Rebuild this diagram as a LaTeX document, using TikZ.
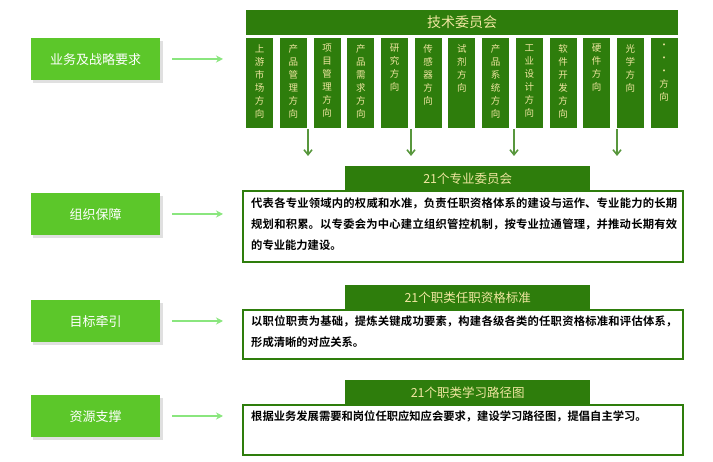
\documentclass[tikz,border=0pt]{standalone}
\usepackage{fontspec}
\setmainfont{Noto Sans CJK SC}
\newfontfamily\cjkb{Noto Sans CJK SC Bold}
\XeTeXlinebreaklocale "zh"
\XeTeXlinebreakskip=0pt plus 1pt
\usetikzlibrary{arrows.meta}
\definecolor{dg}{HTML}{2E7D0C}
\definecolor{bg}{HTML}{5CC72A}
\definecolor{la}{HTML}{8AE67E}
\definecolor{ct}{HTML}{F0E6A0}
\tikzset{x=1pt,y=-1pt,
 colbox/.style={fill=dg,draw=none,minimum width=27pt,minimum height=90pt,anchor=north west,inner sep=0pt},
 coltext/.style={text=ct,font=\fontsize{9.5}{13}\selectfont,align=center,anchor=north,inner sep=0pt},
 leftbox/.style={fill=bg,draw=none,minimum width=129pt,minimum height=42pt,anchor=north west,text=white,font=\fontsize{13}{14}\selectfont,inner sep=0pt},
 tab/.style={fill=dg,draw=none,minimum width=245pt,minimum height=25pt,anchor=north west,text=ct,font=\fontsize{12.5}{14}\selectfont,inner sep=0pt},
 frame/.style={draw=dg,line width=1.6pt,fill=white},
 body/.style={anchor=north west,text width=426pt,inner sep=0pt,align=justify,font=\cjkb\fontsize{11.3}{21}\selectfont},
 larrow/.style={-{Stealth[length=7pt,width=7pt]},draw=la,line width=2pt},
 darrow/.style={-{Straight Barb[length=5pt,width=8pt]},draw=dg!80!white,line width=1.6pt},
}
\begin{document}
\begin{tikzpicture}
\useasboundingbox (0,0) rectangle (713,462);
\node[fill=dg,minimum width=432pt,minimum height=25pt,anchor=north west,inner sep=0pt,text=ct,font=\fontsize{14}{16}\selectfont] (top) at (246,10) {技术委员会};
\foreach \t [count=\i] in {上\\游\\市\\场\\方\\向,产\\品\\管\\理\\方\\向,项\\目\\管\\理\\方\\向,产\\品\\需\\求\\方\\向,研\\究\\方\\向,传\\感\\器\\方\\向,试\\剂\\方\\向,产\\品\\系\\统\\方\\向,工\\业\\设\\计\\方\\向,软\\件\\开\\发\\方\\向,硬\\件\\方\\向,光\\学\\方\\向,·\\·\\·\\方\\向}{
 \node[colbox] (c\i) at ({246+33.7*(\i-1)},38) {};
 \node[coltext] at ([yshift=-6pt]c\i.north) {\t};
}
\foreach \xx [count=\i] in {308,411,514,617}{
 \coordinate (a\i) at (\xx,129); \coordinate (b\i) at (\xx,156);
 \draw[darrow] (a\i) -- (b\i);
}
\foreach \n/\t/\yy in {l1/业务及战略要求/38, l2/组织保障/193, l3/目标牵引/300, l4/资源支撑/395}{
 \fill[black!12] (33,\yy+3) rectangle (163,\yy+45);
 \node[leftbox] (\n) at (31,\yy) {\t};
 \coordinate (\n s) at (172,\yy+21); \coordinate (\n e) at (223,\yy+21);
 \draw[larrow] (\n s) -- (\n e);
}
\draw[frame] (243,191) rectangle (683,262);
\node[body] (B1) at (251,198) {代表各专业领域内的权威和水准，负责任职资格体系的建设与运作、专业能力的长期规划和积累。以专委会为中心建立组织管控机制，按专业拉通管理，并推动长期有效的专业能力建设。};
\node[tab] (T1) at (345,166) {21个专业委员会};
\draw[frame] (243,310) rectangle (683,359);
\node[body] (B2) at (251,316) {以职位职责为基础，提炼关键成功要素，构建各级各类的任职资格标准和评估体系，形成清晰的对应关系。};
\node[tab] (T2) at (345,285) {21个职类任职资格标准};
\draw[frame] (243,405) rectangle (683,455);
\node[body] (B3) at (251,411) {根据业务发展需要和岗位任职应知应会要求，建设学习路径图，提倡自主学习。};
\node[tab] (T3) at (345,380) {21个职类学习路径图};
\end{tikzpicture}
\end{document}
